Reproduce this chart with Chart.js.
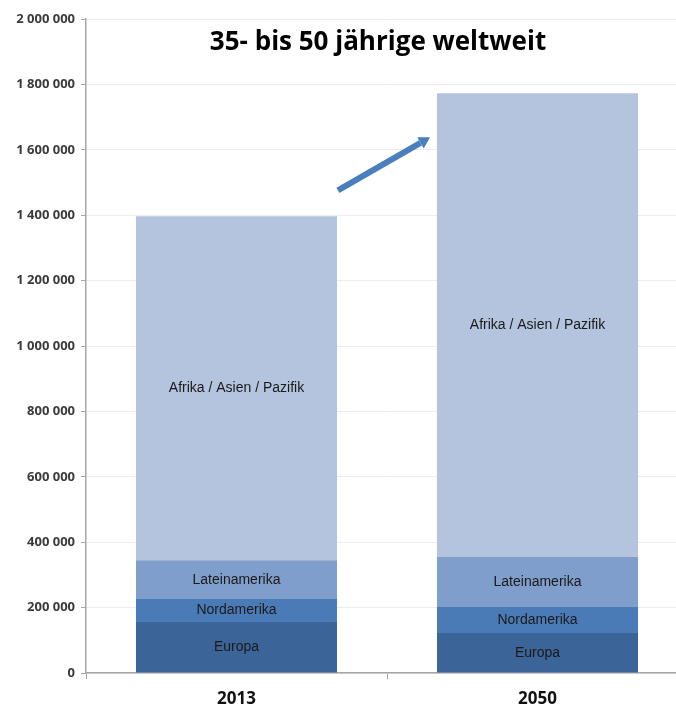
<!DOCTYPE html>
<html>
<head>
<meta charset="utf-8">
<script src="https://cdn.jsdelivr.net/npm/chart.js@4/dist/chart.umd.min.js"></script>
<style>
  html, body { margin: 0; padding: 0; background: #fff; overflow: hidden; }
  #wrap { position: relative; width: 700px; height: 709px; }
</style>
</head>
<body>
<div id="wrap"><canvas id="chart" width="700" height="709"></canvas></div>
<script>
// Daten
const jahre = ['2013', '2050'];
const europa = [156000, 122000];
const nordamerika = [70000, 80000];
const lateinamerika = [119000, 153000];
const afrikaAsienPazifik = [1052000, 1418000];
const regionen = ['Europa', 'Nordamerika', 'Lateinamerika', 'Afrika / Asien / Pazifik'];
const farben = ['#3b6498', '#4a7bb7', '#7f9ecb', '#b4c3de'];
const titel = '35- bis 50 jährige weltweit';

// Pfeil zwischen den Säulen (x in Kategorie-Einheiten, y in Werten)
const pfeilVon = { x: 0.337, y: 1476000 };
const pfeilBis = { x: 0.643, y: 1638000 };

const formatZahl = n => n.toString().replace(/\B(?=(\d{3})+(?!\d))/g, ' ');

// Beschriftungen in den Segmenten, Titel und Pfeil
const extras = {
  id: 'extras',
  afterDatasetsDraw(chart) {
    const ctx = chart.ctx;
    ctx.save();
    ctx.fillStyle = '#1a1a1a';
    ctx.font = '14px "Liberation Sans", Arial, sans-serif';
    ctx.textAlign = 'center';
    ctx.textBaseline = 'middle';
    chart.data.datasets.forEach((ds, i) => {
      chart.getDatasetMeta(i).data.forEach(bar => {
        const p = bar.getProps(['x', 'y', 'base'], true);
        ctx.fillText(ds.label, p.x, (p.y + p.base) / 2);
      });
    });

    ctx.font = 'bold 26px "Open Sans", sans-serif';
    ctx.fillStyle = '#000';
    ctx.textBaseline = 'alphabetic';
    ctx.fillText(titel, 378, 50);

    const xs = chart.scales.x, ys = chart.scales.y;
    const x0 = xs.getPixelForValue(0), x1 = xs.getPixelForValue(1);
    const ax = x0 + pfeilVon.x * (x1 - x0), ay = ys.getPixelForValue(pfeilVon.y);
    const bx = x0 + pfeilBis.x * (x1 - x0), by = ys.getPixelForValue(pfeilBis.y);
    const ang = Math.atan2(by - ay, bx - ax);
    const head = 11;
    ctx.strokeStyle = '#4a7ebf';
    ctx.fillStyle = '#4a7ebf';
    ctx.lineWidth = 6;
    ctx.beginPath();
    ctx.moveTo(ax, ay);
    ctx.lineTo(bx - head * Math.cos(ang), by - head * Math.sin(ang));
    ctx.stroke();
    ctx.beginPath();
    ctx.moveTo(bx, by);
    ctx.lineTo(bx - head * Math.cos(ang) + 6.5 * Math.sin(ang), by - head * Math.sin(ang) - 6.5 * Math.cos(ang));
    ctx.lineTo(bx - head * Math.cos(ang) - 6.5 * Math.sin(ang), by - head * Math.sin(ang) + 6.5 * Math.cos(ang));
    ctx.closePath();
    ctx.fill();
    ctx.restore();
  }
};

const werte = [europa, nordamerika, lateinamerika, afrikaAsienPazifik];

new Chart(document.getElementById('chart'), {
  type: 'bar',
  data: {
    labels: jahre,
    datasets: regionen.map((r, i) => ({
      label: r,
      data: werte[i],
      backgroundColor: farben[i],
      borderWidth: 0,
      barPercentage: 201 / 301,
      categoryPercentage: 1
    }))
  },
  options: {
    responsive: false,
    animation: false,
    layout: { autoPadding: false, padding: { top: 19, right: 12, left: 0, bottom: 0 } },
    plugins: { legend: { display: false }, tooltip: { enabled: false } },
    scales: {
      x: {
        stacked: true,
        afterFit(scale) { scale.height = 36; },
        border: { color: '#a6a6a6', width: 1.5 },
        grid: { drawOnChartArea: false, tickLength: 6, color: '#a6a6a6' },
        ticks: { color: '#111', padding: 10, font: { family: '"Open Sans", sans-serif', size: 17, weight: 'bold' } }
      },
      y: {
        stacked: true,
        min: 0,
        max: 2000000,
        afterFit(scale) { scale.width = 86; },
        border: { color: '#a6a6a6', width: 1.5 },
        grid: { color: '#ececec', tickColor: '#a6a6a6', tickLength: 5 },
        ticks: {
          stepSize: 200000,
          padding: 6,
          color: '#3a3a3a',
          font: { family: '"Open Sans", sans-serif', size: 13, weight: 'bold' },
          callback: v => formatZahl(v)
        }
      }
    }
  },
  plugins: [extras]
});
</script>
</body>
</html>
